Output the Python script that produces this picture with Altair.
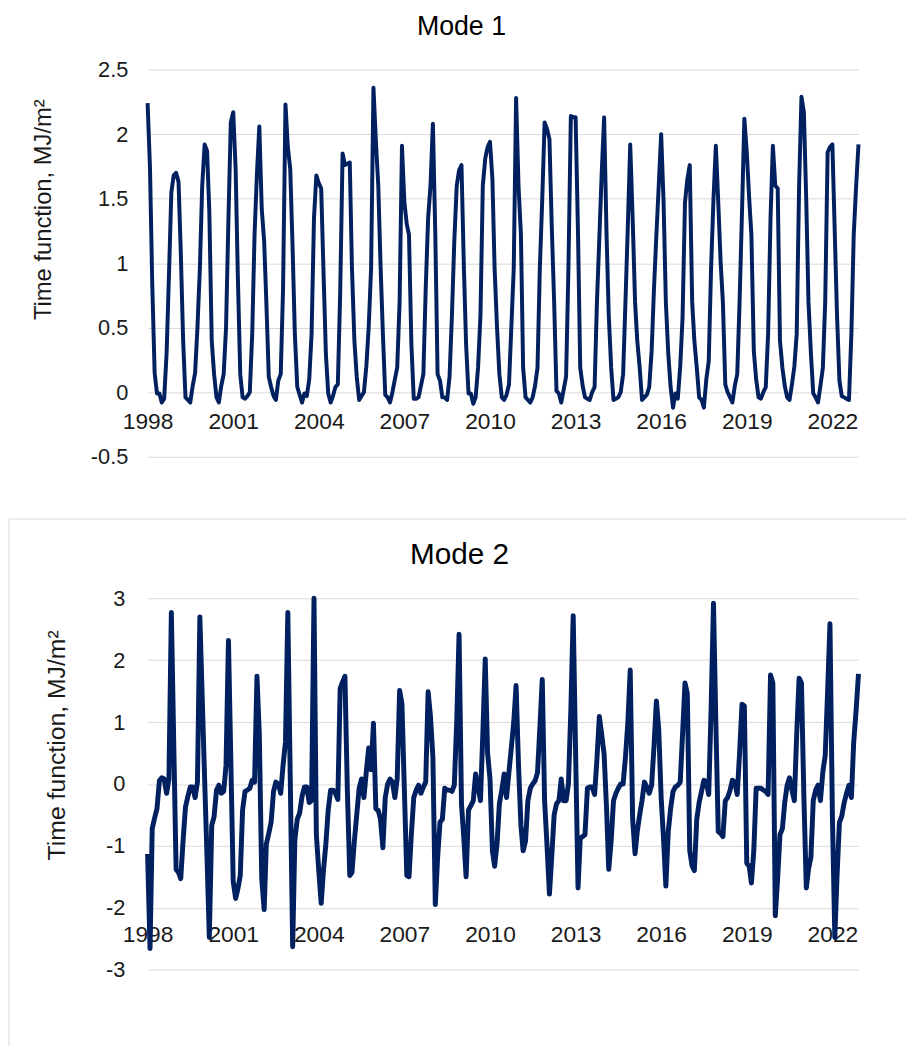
import altair as alt
import pandas as pd

# ---------------- data (monthly, Jan 1998 - Dec 2022) ----------------
months = pd.date_range("1998-01-01", periods=300, freq="MS")

mode1 = [
    2.24, 1.73, 0.85, 0.15, -0.01, -0.01, -0.08, -0.05, 0.30, 0.90, 1.55, 1.68,   # 1998
    1.70, 1.63, 1.10, 0.40, -0.04, -0.06, -0.08, 0.05, 0.15, 0.50, 0.96, 1.60,    # 1999
    1.92, 1.87, 1.40, 0.40, 0.14, -0.04, -0.08, 0.05, 0.14, 0.50, 1.35, 2.09,     # 2000
    2.17, 1.73, 0.90, 0.14, -0.04, -0.05, -0.03, 0.00, 0.45, 1.22, 1.70, 2.06,    # 2001
    1.42, 1.17, 0.70, 0.12, 0.04, -0.03, -0.06, 0.09, 0.14, 0.80, 2.23, 1.90,     # 2002
    1.73, 1.10, 0.45, 0.04, -0.02, -0.08, -0.01, -0.03, 0.10, 0.45, 1.35, 1.68,   # 2003
    1.62, 1.58, 0.95, 0.30, -0.01, -0.08, -0.03, 0.04, 0.06, 0.76, 1.85, 1.76,    # 2004
    1.77, 1.78, 0.96, 0.40, 0.12, -0.06, -0.03, 0.00, 0.20, 0.50, 0.96, 2.36,     # 2005
    1.95, 1.60, 1.00, 0.45, -0.02, -0.04, -0.08, 0.00, 0.10, 0.19, 0.70, 1.91,    # 2006
    1.47, 1.30, 1.22, 0.37, -0.05, -0.05, -0.04, 0.05, 0.14, 0.80, 1.35, 1.60,    # 2007
    2.08, 1.22, 0.14, 0.09, -0.04, -0.04, -0.06, 0.12, 0.60, 1.17, 1.60, 1.72,    # 2008
    1.76, 0.96, 0.37, -0.01, -0.01, -0.09, -0.04, 0.19, 0.60, 1.60, 1.81, 1.90,   # 2009
    1.94, 1.65, 0.96, 0.50, 0.14, -0.04, -0.06, -0.02, 0.06, 0.50, 0.96, 2.28,    # 2010
    1.60, 1.22, 0.19, -0.04, -0.06, -0.08, -0.04, 0.05, 0.19, 0.96, 1.50, 2.09,   # 2011
    2.04, 1.96, 1.30, 0.70, 0.01, -0.01, -0.08, 0.02, 0.12, 0.96, 2.14, 2.13,     # 2012
    2.13, 1.22, 0.19, 0.05, -0.04, -0.05, -0.06, 0.00, 0.04, 0.70, 1.20, 1.70,    # 2013
    2.13, 1.22, 0.60, 0.19, -0.06, -0.05, -0.04, 0.00, 0.14, 0.70, 1.30, 1.92,    # 2014
    1.35, 0.70, 0.40, 0.19, -0.06, -0.04, -0.02, 0.04, 0.32, 0.80, 1.22, 1.60,    # 2015
    2.00, 1.47, 0.70, 0.30, 0.04, -0.12, -0.01, -0.05, 0.20, 0.58, 1.47, 1.65,    # 2016
    1.76, 0.70, 0.40, 0.19, -0.04, -0.06, -0.12, 0.10, 0.24, 0.96, 1.50, 1.91,    # 2017
    1.47, 1.00, 0.70, 0.06, 0.00, -0.04, -0.08, 0.05, 0.14, 0.70, 1.40, 2.12,     # 2018
    1.86, 1.50, 1.22, 0.32, 0.10, -0.04, -0.05, 0.00, 0.04, 0.45, 1.35, 1.91,     # 2019
    1.60, 1.58, 0.40, 0.19, 0.05, -0.04, -0.06, 0.06, 0.20, 0.45, 1.60, 2.29,     # 2020
    2.17, 1.47, 0.70, 0.30, -0.01, -0.04, -0.08, 0.05, 0.19, 0.70, 1.86, 1.90,    # 2021
    1.92, 1.22, 0.60, 0.09, -0.03, -0.04, -0.05, -0.06, 0.45, 1.22, 1.60, 1.92,   # 2022
]

mode2 = [
    -1.13, -2.66, -0.72, -0.55, -0.40, 0.05, 0.10, 0.08, -0.15, 0.08, 2.77, 0.70,      # 1998
    -1.38, -1.43, -1.53, -0.90, -0.37, -0.20, -0.05, -0.05, -0.22, 0.03, 2.70, 1.40,   # 1999
    0.08, -1.20, -2.48, -0.67, -0.53, -0.10, -0.02, -0.15, -0.12, 0.30, 2.32, 0.40,    # 2000
    -1.58, -1.85, -1.70, -1.48, -0.42, -0.12, -0.10, -0.07, 0.06, 0.03, 1.74, 0.80,    # 2001
    -1.53, -2.03, -0.97, -0.80, -0.62, -0.12, 0.03, 0.00, -0.15, 0.30, 0.68, 2.77,     # 2002
    0.10, -2.63, -0.90, -0.57, -0.47, -0.20, -0.05, -0.05, -0.30, -0.27, 3.00, -0.82,  # 2003
    -1.40, -1.93, -1.40, -0.97, -0.42, -0.10, -0.10, -0.15, -0.25, 1.54, 1.65, 1.74,   # 2004
    -0.10, -1.48, -1.43, -0.92, -0.50, -0.07, 0.08, -0.22, 0.20, 0.58, 0.23, 0.98,     # 2005
    -0.40, -0.43, -0.57, -1.03, -0.22, 0.00, 0.08, 0.03, -0.22, 0.08, 1.51, 1.29,      # 2006
    -0.10, -1.48, -1.50, -0.80, -0.22, -0.10, -0.02, -0.15, -0.05, 0.03, 1.49, 1.09,   # 2007
    0.43, -1.95, -1.20, -0.62, -0.57, -0.07, -0.10, -0.10, -0.12, -0.02, 1.00, 2.42,   # 2008
    -0.32, -0.90, -1.50, -0.42, -0.35, -0.27, 0.16, -0.05, -0.27, 0.80, 2.02, 0.50,    # 2009
    0.08, -1.08, -1.33, -0.97, -0.32, -0.10, 0.16, -0.22, 0.20, 0.58, 1.00, 1.59,      # 2010
    0.30, -0.67, -1.08, -0.92, -0.27, -0.07, 0.00, 0.05, 0.18, 0.90, 1.69, -0.27,      # 2011
    -1.00, -1.78, -1.18, -0.50, -0.32, -0.27, 0.08, -0.27, -0.27, 0.00, 1.20, 2.72,    # 2012
    0.50, -1.68, -0.88, -0.85, -0.82, -0.07, -0.05, -0.05, -0.17, 0.40, 1.09, 0.80,    # 2013
    0.48, -0.40, -1.38, -0.92, -0.27, -0.15, -0.07, 0.00, 0.00, 0.43, 1.00, 1.84,      # 2014
    -0.57, -1.13, -0.77, -0.50, -0.27, 0.03, -0.05, -0.15, -0.02, 0.60, 1.34, 0.88,    # 2015
    -0.22, -0.90, -1.65, -0.77, -0.40, -0.12, -0.05, -0.02, 0.03, 0.80, 1.63, 1.46,    # 2016
    -1.08, -1.33, -1.40, -0.57, -0.30, -0.12, 0.06, 0.03, -0.17, 1.20, 2.92, 1.00,     # 2017
    -0.77, -0.80, -0.85, -0.27, -0.22, -0.10, 0.06, 0.03, -0.17, 0.50, 1.29, 1.26,     # 2018
    -1.28, -1.33, -1.60, -1.08, -0.07, -0.07, -0.07, -0.10, -0.12, -0.17, 1.76, 1.63,  # 2019
    -2.13, -1.50, -0.82, -0.72, -0.30, -0.02, 0.10, -0.10, -0.27, 0.80, 1.71, 1.63,    # 2020
    -0.20, -1.68, -1.38, -1.18, -0.27, -0.10, -0.02, -0.27, 0.20, 0.46, 1.50, 2.59,    # 2021
    -0.50, -2.48, -1.50, -0.62, -0.52, -0.30, -0.15, -0.02, -0.22, 0.68, 1.20, 1.78,   # 2022
]

year_ticks = [1998, 2001, 2004, 2007, 2010, 2013, 2016, 2019, 2022]
mode1_ticks = [-0.5, 0, 0.5, 1, 1.5, 2, 2.5]
mode2_ticks = [-3, -2, -1, 0, 1, 2, 3]

titles = ["Mode 1", "Mode 2"]
y_title = "Time function, MJ/m²"

# ---------------- styling ----------------
FONT = "Liberation Sans"
LINE = "#002060"
GRID = "#d9d9d9"
TXT = "#1a1a1a"
W = 718
LABEL_EXPR = "datum.value < 0 ? '-' + format(-datum.value, '~g') : format(datum.value, '~g')"


def x_enc(offset, fs):
    return alt.X(
        "month:T",
        scale=alt.Scale(
            domain=[alt.DateTime(year=1998, month=1, date=1),
                    alt.DateTime(year=2022, month=12, date=1)],
            nice=False,
        ),
        axis=alt.Axis(
            values=[alt.DateTime(year=y, month=1, date=1) for y in year_ticks],
            format="%Y", title=None, grid=False, domain=False, ticks=False,
            labelFlush=False, labelOverlap=False, labelFont=FONT,
            labelFontSize=fs, labelColor=TXT, labelBaseline="middle",
            labelPadding=0, offset=offset,
        ),
    )


def y_enc(domain, ticks, fs, tfs, tx, ty, lpad):
    return alt.Y(
        "value:Q",
        scale=alt.Scale(domain=domain, nice=False, zero=False),
        axis=alt.Axis(
            values=ticks, labelExpr=LABEL_EXPR, title=y_title,
            titleFont=FONT, titleFontSize=tfs, titleFontWeight="normal",
            titleColor=TXT, titleX=tx, titleY=ty, titleBaseline="middle",
            titleAngle=270,
            domain=False, ticks=False, gridColor=GRID, gridWidth=1,
            labelFont=FONT, labelFontSize=fs, labelColor=TXT, labelPadding=lpad,
        ),
    )


df1 = pd.DataFrame({"month": months, "value": mode1})
df2 = pd.DataFrame({"month": months, "value": mode2})

top = alt.Chart(df1).mark_line(color=LINE, strokeWidth=4, strokeJoin="round").encode(
    x=x_enc(-36, 23),
    y=y_enc([-0.5, 2.5], mode1_ticks, 22, 24, -105, 141, 20),
).properties(
    width=W, height=391,
    title=alt.TitleParams(titles[0], font=FONT, fontSize=27, fontWeight="normal",
                          color="#000000", anchor="middle", frame="group",
                          offset=-3, baseline="alphabetic", dx=-42),
)

bottom_line = alt.Chart(df2).mark_line(color=LINE, strokeWidth=5, strokeJoin="round").encode(
    x=x_enc(-35, 23),
    y=y_enc([-3, 3], mode2_ticks, 22, 25, -92, 148, 23),
)

frame_df = pd.DataFrame({"k": [0]})
frame_top = alt.Chart(frame_df).mark_rule(color=GRID, strokeWidth=1).encode(
    x=alt.value(-140), x2=alt.value(766), y=alt.value(-80)
)
frame_left = alt.Chart(frame_df).mark_rule(color=GRID, strokeWidth=1).encode(
    x=alt.value(-140), y=alt.value(-80), y2=alt.value(452)
)

bottom = alt.layer(bottom_line, frame_top, frame_left).properties(
    width=W, height=375,
    title=alt.TitleParams(titles[1], font=FONT, fontSize=30, fontWeight="normal",
                          color="#000000", anchor="middle", frame="group",
                          offset=-76, baseline="alphabetic", dx=-44),
)

chart = alt.vconcat(top, bottom, spacing=143, bounds="flush").properties(
    padding={"left": 0, "top": 0, "right": 0, "bottom": 0},
    background="white",
).configure_view(stroke=None)

chart.save("out.html", embed_options={"renderer": "svg", "actions": False})
